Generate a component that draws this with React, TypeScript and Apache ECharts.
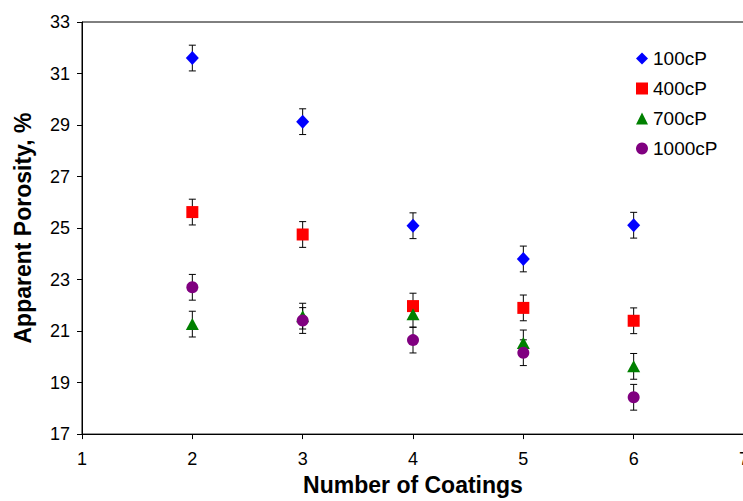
import React, { useEffect, useRef } from "react";
import * as echarts from "echarts";

const coatings = [2, 3, 4, 5, 6];
const seriesNames = ["100cP", "400cP", "700cP", "1000cP"];
const p100 = [31.6, 29.13, 25.09, 23.8, 25.11];
const p400 = [25.62, 24.75, 21.97, 21.9, 21.4];
const p700 = [21.27, 21.58, 21.65, 20.54, 19.63];
const p1000 = [22.7, 21.41, 20.65, 20.16, 18.43];
const e100 = [0.5, 0.5, 0.5, 0.5, 0.5];
const e400 = [0.5, 0.5, 0.5, 0.5, 0.5];
const e700 = [0.5, 0.5, 0.5, 0.5, 0.5];
const e1000 = [0.5, 0.5, 0.5, 0.5, 0.5];
const yTicks = { min: 17, max: 33, interval: 2 };
const xTicks = { min: 1, max: 7, interval: 1 };

const values = [p100, p400, p700, p1000];
const errors = [e100, e400, e700, e1000];
const colors = ["#0000FF", "#FF0000", "#008000", "#800080"];
const symbols = ["diamond", "rect", "triangle", "circle"];
const symbolSizes: any[] = [[13, 14], 12, [13, 12], 12];

const FONT = "'Liberation Sans', Arial, sans-serif";
const CHART_W = 760;

export default function App() {
  const ref = useRef<HTMLDivElement>(null);
  useEffect(() => {
    if (!ref.current) return;
    const chart = echarts.init(ref.current, undefined, { renderer: "svg" });

    const errData: number[][] = [];
    values.forEach((vals, si) => {
      vals.forEach((v, i) => {
        errData.push([coatings[i], v - errors[si][i], v + errors[si][i]]);
      });
    });

    const scatterSeries = values.map((vals, si) => ({
      name: seriesNames[si],
      type: "scatter",
      symbol: symbols[si],
      symbolSize: symbolSizes[si],
      itemStyle: { color: colors[si], opacity: 1 },
      z: 3,
      data: vals.map((v, i) => [coatings[i], v]),
    }));

    chart.setOption({
      animation: false,
      backgroundColor: "#fff",
      textStyle: { fontFamily: FONT },
      grid: {
        left: 82,
        top: 22,
        right: CHART_W - 744,
        bottom: 64,
        show: true,
        borderColor: "#000",
        borderWidth: 1,
      },
      legend: {
        orient: "vertical",
        left: 631,
        top: 44,
        itemWidth: 12,
        itemHeight: 12,
        itemGap: 11,
        data: seriesNames,
        textStyle: { fontSize: 19, color: "#000", fontFamily: FONT },
      },
      xAxis: {
        type: "value",
        min: xTicks.min,
        max: xTicks.max,
        interval: xTicks.interval,
        splitLine: { show: false },
        axisLine: { show: true, onZero: false, lineStyle: { color: "#000", width: 1 } },
        axisTick: { show: true, inside: false, length: 5, lineStyle: { color: "#000" } },
        axisLabel: { fontSize: 18, color: "#000", margin: 16, fontFamily: FONT },
        name: "Number of Coatings",
        nameLocation: "middle",
        nameGap: 36,
        nameTextStyle: { fontSize: 23, fontWeight: "bold", color: "#000", fontFamily: FONT },
      },
      yAxis: {
        type: "value",
        min: yTicks.min,
        max: yTicks.max,
        interval: yTicks.interval,
        splitLine: { show: false },
        axisLine: { show: true, lineStyle: { color: "#000", width: 1 } },
        axisTick: { show: true, inside: false, length: 5, lineStyle: { color: "#000" } },
        axisLabel: { fontSize: 18, color: "#000", margin: 12, fontFamily: FONT },
        name: "Apparent Porosity, %",
        nameLocation: "middle",
        nameRotate: 90,
        nameGap: 48,
        nameTextStyle: { fontSize: 23, fontWeight: "bold", color: "#000", fontFamily: FONT },
      },
      series: [
        {
          type: "custom",
          name: "errors",
          z: 2,
          silent: true,
          data: errData,
          encode: { x: 0, y: [1, 2] },
          renderItem: (params: any, api: any) => {
            const x = api.value(0);
            const top = api.coord([x, api.value(2)]);
            const bot = api.coord([x, api.value(1)]);
            const w = 3.5;
            const st = { stroke: "#000", lineWidth: 1 };
            return {
              type: "group",
              children: [
                { type: "line", shape: { x1: top[0], y1: top[1], x2: bot[0], y2: bot[1] }, style: st },
                { type: "line", shape: { x1: top[0] - w, y1: top[1], x2: top[0] + w, y2: top[1] }, style: st },
                { type: "line", shape: { x1: bot[0] - w, y1: bot[1], x2: bot[0] + w, y2: bot[1] }, style: st },
              ],
            };
          },
        },
        ...scatterSeries,
      ],
    });
    return () => chart.dispose();
  }, []);
  return (
    <div
      style={{
        position: "fixed",
        left: 0,
        top: 0,
        width: 743,
        height: 501,
        overflow: "hidden",
        background: "#fff",
      }}
    >
      <div ref={ref} style={{ width: CHART_W, height: 501 }} />
    </div>
  );
}
